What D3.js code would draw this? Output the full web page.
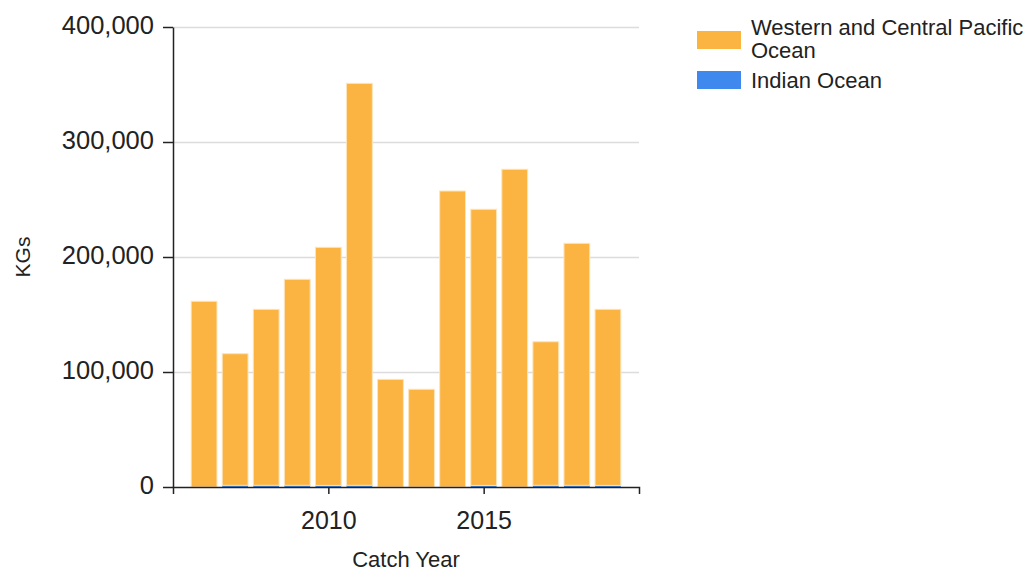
<!DOCTYPE html>
<html>
<head>
<meta charset="utf-8">
<script src="https://cdn.jsdelivr.net/npm/d3@7"></script>
<style>
  body { margin: 0; background: #fff; }
  text { font-family: "Liberation Sans", Arial, sans-serif; fill: #222; }
  .grid line { stroke: #dcdcdc; stroke-width: 1.5; }
  .grid path { display: none; }
  .axis path, .axis line { stroke: #222; stroke-width: 1.5; }
</style>
</head>
<body>
<svg id="chart" width="1032" height="571"></svg>
<script>
(function () {
  // catch per year, kg
  var years = [2006, 2007, 2008, 2009, 2010, 2011, 2012, 2013, 2014, 2015, 2016, 2017, 2018, 2019];
  var wcpo = [161500, 114400, 153000, 179100, 207000, 349500, 93600, 85000, 257400, 240100, 276300, 124800, 210400, 153100];
  var indian = [0, 1500, 1500, 1500, 1400, 1500, 0, 0, 0, 1400, 0, 1500, 1500, 1400];
  var yTicks = [0, 100000, 200000, 300000, 400000];
  var xTicks = [2010, 2015];
  var seriesNames = ["Western and Central Pacific Ocean", "Indian Ocean"];
  var colors = {wcpo: "#fbb341", indian: "#3f88ee"};

  var svg = d3.select("#chart");
  var margin = {top: 27, left: 173, right: 393, bottom: 84};
  var width = +svg.attr("width") - margin.left - margin.right;
  var height = +svg.attr("height") - margin.top - margin.bottom;

  var g = svg.append("g")
    .attr("transform", "translate(" + margin.left + "," + margin.top + ")");

  var x = d3.scaleLinear().domain([2005, 2020]).range([0, width]);
  var y = d3.scaleLinear().domain([0, 400000]).range([height, 0]);

  // gridlines
  g.append("g")
    .attr("class", "grid")
    .call(d3.axisLeft(y).tickValues(yTicks.slice(1)).tickSize(-width).tickFormat(""));

  var rows = years.map(function (yr, i) {
    return {year: yr, indian: indian[i], wcpo: wcpo[i]};
  });
  var stack = d3.stack().keys(["indian", "wcpo"]);
  var layers = stack(rows);

  var barW = (x(1) - x(0)) * 0.83;

  g.selectAll(".layer")
    .data(layers)
    .enter().append("g")
    .attr("class", "layer")
    .attr("fill", function (d) { return colors[d.key]; })
    .selectAll("rect")
    .data(function (d) { return d; })
    .enter().append("rect")
    .attr("x", function (d) { return x(d.data.year) - barW / 2; })
    .attr("width", barW)
    .attr("y", function (d) { return y(d[1]); })
    .attr("height", function (d) { return y(d[0]) - y(d[1]); })
    .attr("stroke", function (d) { return d[1] - d[0] > 5000 ? "#fde4b8" : "none"; })
    .attr("stroke-width", 1);

  // axes
  var xAxis = g.append("g")
    .attr("class", "axis")
    .attr("transform", "translate(0," + height + ")")
    .call(d3.axisBottom(x).tickValues(xTicks).tickFormat(d3.format("d")).tickSize(7).tickPadding(17));
  xAxis.selectAll("text").style("font-size", "25px");

  var yAxis = g.append("g")
    .attr("class", "axis")
    .call(d3.axisLeft(y).tickValues(yTicks).tickFormat(d3.format(",")).tickSize(10).tickSizeOuter(0).tickPadding(9));
  yAxis.selectAll("text").style("font-size", "25.5px").attr("dy", "0.25em");

  // axis titles
  svg.append("text")
    .attr("x", margin.left + width / 2)
    .attr("y", 567)
    .attr("text-anchor", "middle")
    .style("font-size", "22px")
    .text("Catch Year");

  svg.append("text")
    .attr("transform", "translate(30," + (margin.top + height / 2) + ") rotate(-90)")
    .attr("text-anchor", "middle")
    .style("font-size", "21px")
    .text("KGs");

  // legend
  var legend = svg.append("g").attr("transform", "translate(697,0)");
  legend.append("rect").attr("x", 0).attr("y", 31).attr("width", 44).attr("height", 18).attr("fill", colors.wcpo);
  legend.append("rect").attr("x", 0).attr("y", 71).attr("width", 44).attr("height", 18).attr("fill", colors.indian);
  var t1 = legend.append("text").attr("x", 54).attr("y", 35).style("font-size", "22px");
  t1.append("tspan").attr("x", 54).text("Western and Central Pacific");
  t1.append("tspan").attr("x", 54).attr("dy", 23).text("Ocean");
  legend.append("text").attr("x", 54).attr("y", 88).style("font-size", "22px").text(seriesNames[1]);
}());
</script>
</body>
</html>
